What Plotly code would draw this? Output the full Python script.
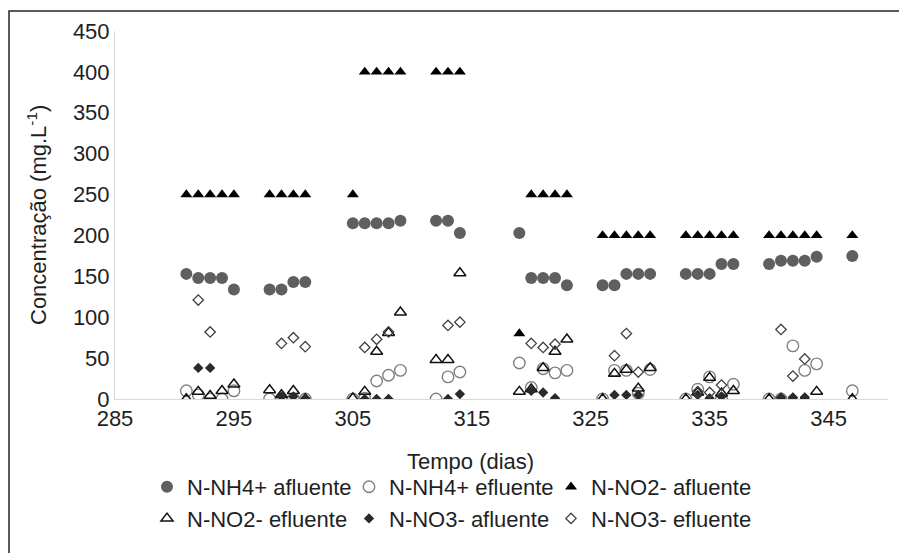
import plotly.graph_objects as go

# ---- data ----
nh4_afl_days = [291, 292, 293, 294, 295, 298, 299, 300, 301, 305, 306, 307, 308, 309,
                312, 313, 314, 319, 320, 321, 322, 323, 326, 327, 328, 329, 330,
                333, 334, 335, 336, 337, 340, 341, 342, 343, 344, 347]
nh4_afl_vals = [153, 148, 148, 148, 134, 134, 134, 143, 143, 215, 215, 215, 215, 218,
                218, 218, 203, 203, 148, 148, 148, 139, 139, 139, 153, 153, 153,
                153, 153, 153, 165, 165, 165, 169, 169, 169, 174, 175]

nh4_efl_days = [291, 292, 293, 294, 295, 298, 299, 300, 301, 305, 306, 307, 308, 309,
                312, 313, 314, 319, 320, 321, 322, 323, 326, 327, 328, 329, 330,
                333, 334, 335, 336, 337, 340, 341, 342, 343, 344, 347]
nh4_efl_vals = [10, 5, 0, 0, 10, 0, 0, 0, 0, 0, 1, 22, 29, 35,
                0, 27, 33, 44, 14, 37, 32, 35, 0, 35, 35, 7, 36,
                0, 12, 27, 0, 18, 0, 0, 65, 35, 43, 10]

no2_afl_days = [291, 292, 293, 294, 295, 298, 299, 300, 301, 305, 306, 307, 308, 309,
                312, 313, 314, 319, 320, 321, 322, 323, 326, 327, 328, 329, 330,
                333, 334, 335, 336, 337, 340, 341, 342, 343, 344, 347]
no2_afl_vals = [250, 250, 250, 250, 250, 250, 250, 250, 250, 250, 400, 400, 400, 400,
                400, 400, 400, 80, 250, 250, 250, 250, 200, 200, 200, 200, 200,
                200, 200, 200, 200, 200, 200, 200, 200, 200, 200, 200]

no2_efl_days = [291, 292, 293, 294, 295, 298, 299, 300, 301, 305, 306, 307, 308, 309,
                312, 313, 314, 319, 320, 321, 322, 323, 326, 327, 328, 329, 330,
                333, 334, 335, 336, 337, 340, 341, 342, 343, 344, 347]
no2_efl_vals = [0, 9, 4, 10, 18, 11, 5, 10, 0, 1, 9, 58, 81, 106,
                48, 48, 154, 9, 12, 38, 58, 73, 0, 31, 36, 13, 38,
                0, 8, 26, 7, 10, 0, 0, 0, 0, 9, 0]

no3_afl_days = [292, 293, 299, 300, 301, 306, 307, 308, 313, 314,
                320, 321, 322, 327, 328, 329, 334, 335, 336, 341, 342, 343]
no3_afl_vals = [38, 38, 3, 3, 1, 0, 0, 0, 0, 6,
                10, 8, 1, 5, 5, 5, 5, 1, 3, 2, 2, 2]

no3_efl_days = [292, 293, 299, 300, 301, 306, 307, 308, 313, 314,
                320, 321, 322, 327, 328, 329, 334, 335, 336, 341, 342, 343]
no3_efl_vals = [121, 82, 68, 75, 64, 63, 73, 82, 90, 94,
                68, 63, 67, 53, 80, 33, 9, 8, 17, 85, 28, 49]

series_names = ["N-NH4+ afluente", "N-NH4+ efluente", "N-NO2- afluente",
                "N-NO2- efluente", "N-NO3- afluente", "N-NO3- efluente"]

FONT = "Liberation Sans, Arial, sans-serif"
TXT = "#1f1f1f"

fig = go.Figure()

fig.add_trace(go.Scatter(x=nh4_afl_days, y=nh4_afl_vals, mode="markers", name=series_names[0],
                         marker=dict(symbol="circle", size=12, color="#5f5f5f", line=dict(width=0))))
fig.add_trace(go.Scatter(x=nh4_efl_days, y=nh4_efl_vals, mode="markers", name=series_names[1],
                         marker=dict(symbol="circle-open", size=11.5, color="#808080", line=dict(width=1.4))))
fig.add_trace(go.Scatter(x=no2_afl_days, y=no2_afl_vals, mode="markers", name=series_names[2],
                         marker=dict(symbol="triangle-up", size=10.5, color="#000000", line=dict(width=0))))
fig.add_trace(go.Scatter(x=no2_efl_days, y=no2_efl_vals, mode="markers", name=series_names[3],
                         marker=dict(symbol="triangle-up-open", size=10.5, color="#111111", line=dict(width=1.5))))
fig.add_trace(go.Scatter(x=no3_afl_days, y=no3_afl_vals, mode="markers", name=series_names[4],
                         marker=dict(symbol="diamond", size=8, color="#2a2a2a", line=dict(width=0))))
fig.add_trace(go.Scatter(x=no3_efl_days, y=no3_efl_vals, mode="markers", name=series_names[5],
                         marker=dict(symbol="diamond-open", size=8, color="#404040", line=dict(width=1.3))))

fig.update_layout(
    width=907, height=553,
    margin=dict(l=107, r=27, t=23, b=162, autoexpand=False),
    paper_bgcolor="white", plot_bgcolor="white",
    font=dict(family=FONT, size=22, color=TXT),
    showlegend=True,
    legend=dict(orientation="h", x=(450 - 115) / 773, xanchor="center",
                y=-0.182, yanchor="top",
                font=dict(family=FONT, size=22, color=TXT),
                itemwidth=30, tracegroupgap=0, bgcolor="rgba(0,0,0,0)",
                entrywidth=157, entrywidthmode="pixels"),
    xaxis=dict(range=[285, 350], tick0=285, dtick=10, showgrid=False, zeroline=False,
               showline=True, linecolor="#d9d9d9", linewidth=1, ticks="",
               tickangle=0, automargin=False,
               tickfont=dict(family=FONT, size=22, color=TXT)),
    yaxis=dict(range=[0, 450], tick0=0, dtick=50, showgrid=False, zeroline=False,
               showline=True, linecolor="#d9d9d9", linewidth=1, ticks="",
               automargin=False,
               tickfont=dict(family=FONT, size=22, color=TXT)),
    annotations=[
        dict(text="Tempo (dias)", xref="paper", yref="paper",
             x=(470 - 115) / 773, y=(399 - 461) / 368, xanchor="center", yanchor="middle",
             showarrow=False, font=dict(family=FONT, size=22, color=TXT)),
        dict(text="Concentração (mg.L<sup>-1</sup>)", xref="paper", yref="paper",
             x=(37 - 115) / 773, y=0.5, xanchor="center", yanchor="middle", textangle=-90,
             showarrow=False, font=dict(family=FONT, size=22, color=TXT)),
    ],
    shapes=[
        dict(type="rect", xref="paper", yref="paper",
             x0=(9 - 115) / 773, x1=(930 - 115) / 773,
             y0=(399 - 580) / 368, y1=(399 - 11) / 368,
             line=dict(color="#262626", width=1.5), fillcolor="rgba(0,0,0,0)", layer="below"),
    ],
)

fig.write_html("out.html")
